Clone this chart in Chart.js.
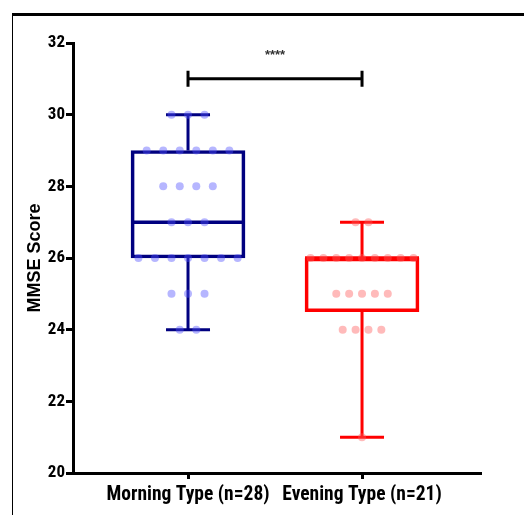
<!DOCTYPE html>
<html>
<head>
<meta charset="utf-8">
<script src="https://cdn.jsdelivr.net/npm/chart.js@4.4.0/dist/chart.umd.min.js"></script>
<style>
  html, body { margin: 0; padding: 0; background: #fff; }
  #wrap { position: relative; width: 524px; height: 515px; overflow: hidden; }
  #frame { position: absolute; left: 12px; top: 13px; width: 600px; height: 600px;
           border-top: 3px solid #000; border-left: 1px solid #000; }
  canvas { position: absolute; left: 0; top: 0; }
</style>
</head>
<body>
<div id="wrap">
  <div id="frame"></div>
  <canvas id="myChart" width="524" height="515"></canvas>
</div>
<script>
// groups
var categories = ['Morning Type (n=28)', 'Evening Type (n=21)'];

// individual scores
var morningScores = [30, 30, 30,
                     29, 29, 29, 29, 29, 29,
                     28, 28, 28, 28,
                     27, 27, 27,
                     26, 26, 26, 26, 26, 26, 26,
                     25, 25, 25,
                     24, 24];
var eveningScores = [27, 27,
                     26, 26, 26, 26, 26, 26, 26, 26, 26,
                     25, 25, 25, 25, 25,
                     24, 24, 24, 24,
                     21];

// box summary (min, q1, median, q3, max)
var boxMin = [24, 21];
var boxQ1 = [26, 24.5];
var boxMedian = [27, 26];
var boxQ3 = [29, 26];
var boxMax = [30, 27];

var yTicks = [20, 22, 24, 26, 28, 30, 32];

var sigLevel = 31;
var sigLabel = '****';

var boxColors = ['#000080', '#ff0000'];
var dotColors = ['rgba(80,80,255,0.42)', 'rgba(255,90,90,0.42)'];
var dotSpacing = [0.095, 0.074];

// spread dots with the same score side by side around the group centre
function dotsFor(scores, pos, spacing) {
  var counts = {}, seen = {}, pts = [];
  scores.forEach(function(s){ counts[s] = (counts[s] || 0) + 1; });
  scores.forEach(function(s){
    seen[s] = (seen[s] || 0);
    var off = (seen[s] - (counts[s] - 1) / 2) * spacing;
    seen[s]++;
    pts.push({x: pos + off, y: s});
  });
  return pts;
}

var whiskerPlugin = {
  id: 'whiskers',
  beforeDatasetsDraw: function(chart) {
    var ctx = chart.ctx, x = chart.scales.x, y = chart.scales.y;
    categories.forEach(function(c, i){
      var cx = x.getPixelForValue(i + 1);
      ctx.save();
      ctx.strokeStyle = boxColors[i];
      ctx.lineWidth = 3;
      ctx.beginPath();
      ctx.moveTo(cx, y.getPixelForValue(boxQ3[i]));
      ctx.lineTo(cx, y.getPixelForValue(boxMax[i]));
      ctx.moveTo(cx, y.getPixelForValue(boxQ1[i]));
      ctx.lineTo(cx, y.getPixelForValue(boxMin[i]));
      ctx.moveTo(cx - 22, y.getPixelForValue(boxMax[i]));
      ctx.lineTo(cx + 22, y.getPixelForValue(boxMax[i]));
      ctx.moveTo(cx - 22, y.getPixelForValue(boxMin[i]));
      ctx.lineTo(cx + 22, y.getPixelForValue(boxMin[i]));
      ctx.stroke();
      ctx.lineWidth = 3.5;
      ctx.beginPath();
      ctx.moveTo(cx - 57, y.getPixelForValue(boxMedian[i]));
      ctx.lineTo(cx + 57, y.getPixelForValue(boxMedian[i]));
      ctx.stroke();
      ctx.restore();
    });
  },
  afterDatasetsDraw: function(chart) {
    var ctx = chart.ctx, x = chart.scales.x, y = chart.scales.y;
    var x1 = x.getPixelForValue(1), x2 = x.getPixelForValue(2);
    var yy = y.getPixelForValue(sigLevel);
    ctx.save();
    ctx.strokeStyle = '#000';
    ctx.lineWidth = 3;
    ctx.beginPath();
    ctx.moveTo(x1, yy); ctx.lineTo(x2, yy);
    ctx.moveTo(x1, yy - 8); ctx.lineTo(x1, yy + 8);
    ctx.moveTo(x2, yy - 8); ctx.lineTo(x2, yy + 8);
    ctx.stroke();
    ctx.fillStyle = '#333';
    ctx.font = 'bold 13px "Liberation Sans", Arial';
    ctx.textAlign = 'center';
    ctx.textBaseline = 'middle';
    ctx.fillText(sigLabel, (x1 + x2) / 2, y.getPixelForValue(sigLevel + 0.66));
    ctx.restore();
  }
};

var myChart = document.getElementById('myChart').getContext('2d');
var chart = new Chart(myChart, {
  type: 'bar',
  data: {
    datasets: [
      {
        type: 'scatter',
        data: dotsFor(morningScores, 1, dotSpacing[0]),
        backgroundColor: dotColors[0],
        borderWidth: 0,
        pointRadius: 4,
        order: 1
      },
      {
        type: 'scatter',
        data: dotsFor(eveningScores, 2, dotSpacing[1]),
        backgroundColor: dotColors[1],
        borderWidth: 0,
        pointRadius: 4,
        order: 1
      },
      {
        type: 'bar',
        data: [{x: 1, y: [boxQ1[0], boxQ3[0]]}, {x: 2, y: [boxQ1[1], boxQ3[1]]}],
        backgroundColor: 'rgba(0,0,0,0)',
        borderColor: boxColors,
        borderWidth: 3,
        borderSkipped: false,
        barThickness: 114,
        order: 2
      }
    ]
  },
  options: {
    responsive: false,
    animation: false,
    layout: { padding: { top: 43, right: 44, left: 0, bottom: 0 } },
    plugins: { legend: { display: false }, tooltip: { enabled: false } },
    scales: {
      x: {
        type: 'linear',
        min: 0.339,
        max: 2.678,
        offset: false,
        afterBuildTicks: function(scale) {
          scale.ticks = [{value: 1}, {value: 2}];
        },
        afterFit: function(scale) { scale.height = 42; },
        ticks: {
          callback: function(v) { return categories[v - 1]; },
          color: '#000',
          padding: 4,
          maxRotation: 0,
          autoSkip: false,
          font: { family: '"Roboto Condensed", "Liberation Sans", Arial', size: 19.5, weight: 'bold' }
        },
        grid: { display: true, drawOnChartArea: false, drawTicks: true, tickLength: 6,
                color: '#000', lineWidth: 3, offset: false },
        border: { display: true, color: '#000', width: 3 }
      },
      y: {
        min: 20,
        max: 32,
        afterBuildTicks: function(scale) {
          scale.ticks = yTicks.map(function(v){ return {value: v}; });
        },
        afterFit: function(scale) { scale.width = 73; },
        title: {
          display: true,
          text: 'MMSE Score',
          color: '#000',
          padding: { top: 24, bottom: 0 },
          font: { family: '"Liberation Sans", Arial', size: 18, weight: 'bold' }
        },
        ticks: {
          color: '#000',
          padding: 1,
          font: { family: '"Roboto Condensed", "Liberation Sans", Arial', size: 17, weight: 'bold' }
        },
        grid: { display: true, drawOnChartArea: false, drawTicks: true, tickLength: 7,
                color: '#000', lineWidth: 3 },
        border: { display: true, color: '#000', width: 3 }
      }
    }
  },
  plugins: [whiskerPlugin]
});
</script>
</body>
</html>
